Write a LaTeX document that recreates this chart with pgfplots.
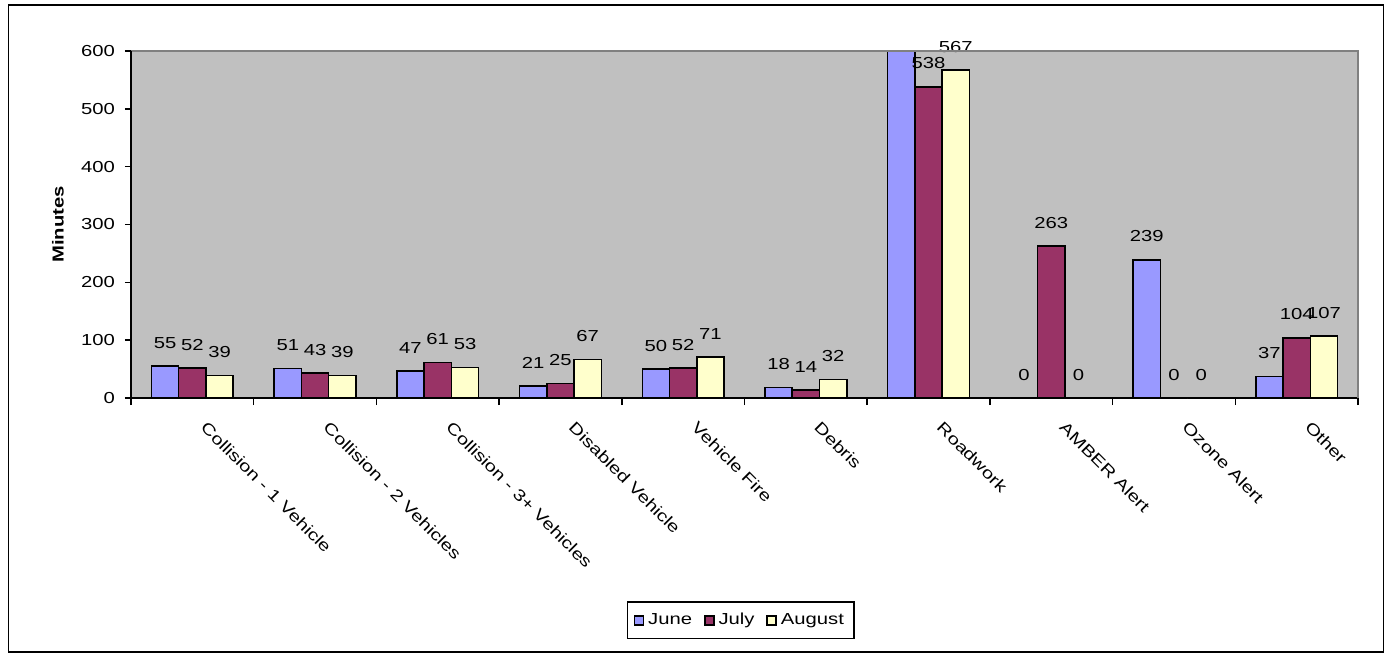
\documentclass[border=0pt]{standalone}
\usepackage{fontspec}
\setmainfont{Liberation Sans}[FakeStretch=1.27]
\usepackage{pgfplots}
\usepackage{pgfplotstable}
\pgfplotsset{compat=1.18}

\definecolor{june}{HTML}{9999FF}
\definecolor{july}{HTML}{993366}
\definecolor{august}{HTML}{FFFFCC}
\definecolor{plotbg}{HTML}{C0C0C0}
\definecolor{plotedge}{HTML}{808080}

% Minutes per incident type; the Roadwork value for June runs off the top of the scale
\pgfplotstableread{
x y lab
0 55 55
1 51 51
2 47 47
3 21 21
4 50 50
5 18 18
6 640 {}
7 0 0
8 239 239
9 37 37
}\junedata
\pgfplotstableread{
x y lab
0 52 52
1 43 43
2 61 61
3 25 25
4 52 52
5 14 14
6 538 538
7 263 263
8 0 0
9 104 104
}\julydata
\pgfplotstableread{
x y lab
0 39 39
1 39 39
2 53 53
3 67 67
4 71 71
5 32 32
6 567 567
7 0 0
8 0 0
9 107 107
}\augustdata

\newcommand{\chartfont}{\fontsize{8}{9.6}\selectfont}

\begin{document}
\begin{tikzpicture}
\begin{axis}[
  at={(0,0)}, anchor=south west,
  scale only axis,
  width=613.5bp, height=173.5bp,
  xmin=-0.5, xmax=9.5, ymin=0, ymax=600,
  ybar=0pt, bar width=0.2222,
  clip mode=individual,
  axis background/.style={fill=plotbg},
  axis x line*=bottom, axis y line*=left,
  axis line style={line width=0.75bp, black},
  ytick={0,100,...,600},
  xtick={0,...,9},
  xticklabels={Collision - 1 Vehicle, Collision - 2 Vehicles, Collision - 3+ Vehicles, Disabled Vehicle, Vehicle Fire, Debris, Roadwork, AMBER Alert, Ozone Alert, Other},
  minor xtick={-0.5,0.5,...,9.5},
  major x tick style={draw=none},
  minor x tick style={black, line width=0.75bp},
  y tick style={black, line width=0.75bp},
  tick align=outside,
  major tick length=3bp, minor tick length=3.5bp,
  /pgf/number format/assume math mode=true,
  tick label style={font=\chartfont, black},
  xticklabel style={xshift=7.8bp, yshift=-8bp, rotate=-45, anchor=north west, inner sep=0pt},
  yticklabel style={xshift=-1.5bp},
  ylabel={Minutes},
  ylabel style={font=\chartfont\bfseries, at={(axis description cs:-0.0595,0.5)}, anchor=center},
  nodes near coords,
  point meta=explicit symbolic,
  every node near coord/.append style={font=\chartfont, black, anchor=south, inner sep=0pt, yshift=8.5bp},
  legend columns=3,
  legend style={at={(axis description cs:0.497,-0.641)}, anchor=center,
    draw=black, line width=0.75bp, fill=white, font=\chartfont,
    inner xsep=3bp, inner ysep=3.5bp,
    /tikz/every even column/.append style={column sep=4bp}},
  legend image code/.code={\draw[#1] (0bp,-2.25bp) rectangle (4.5bp,2.25bp);},
]
\addplot[fill=june, draw=black, line width=0.75bp] table[x=x, y=y, meta=lab] {\junedata};
\addplot[fill=july, draw=black, line width=0.75bp] table[x=x, y=y, meta=lab] {\julydata};
\addplot[fill=august, draw=black, line width=0.75bp] table[x=x, y=y, meta=lab] {\augustdata};
\legend{June, July, August}
\end{axis}
% grey top and right edges of the plot area
\draw[plotedge, line width=0.75bp] (current axis.north west) -- (current axis.north east) -- (current axis.south east);
\draw[black, line width=0.75bp] (current axis.north west) -- (current axis.south west);
% chart frame
\draw[black, line width=0.85bp] (-61.25bp,-127bp) rectangle (626.25bp,196.5bp);
\useasboundingbox (-65.5bp,-128bp) rectangle (628bp,199bp);
\end{tikzpicture}
\end{document}
